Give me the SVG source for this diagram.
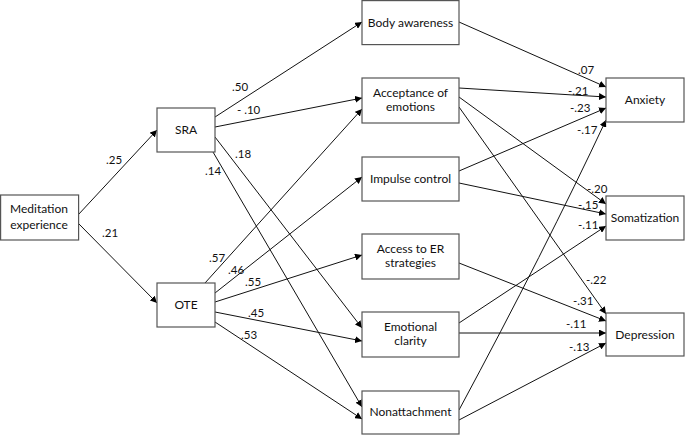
<svg xmlns="http://www.w3.org/2000/svg" width="685" height="436" viewBox="0 0 685 436">
<defs>
<marker id="ah" viewBox="0 0 10 10" refX="10" refY="5" markerWidth="7" markerHeight="7" orient="auto" markerUnits="userSpaceOnUse">
<path d="M0,0 L10,5 L0,10 z" fill="#000"/>
</marker>
<style>
.box{fill:#fff;stroke:#555;stroke-width:1.2}
.t{font-family:Lato,"Open Sans",sans-serif;font-size:12px;fill:#111;text-anchor:middle}
.l{font-family:Lato,"Open Sans",sans-serif;font-size:11.5px;fill:#111}
.c{fill:none;stroke:#111;stroke-width:1;marker-end:url(#ah)}
.n{fill:none;stroke:#111;stroke-width:1}
</style>
</defs>
<rect width="685" height="436" fill="#fff"/>
<g id="connectors">
<line class="c" x1="78" y1="215" x2="157" y2="130"/>
<line class="c" x1="78" y1="223" x2="157" y2="303"/>
<line class="c" x1="215" y1="117" x2="362" y2="22"/>
<line class="c" x1="215" y1="127" x2="362" y2="98"/>
<line class="c" x1="215" y1="137" x2="362" y2="328"/>
<line class="c" x1="213" y1="152" x2="362" y2="407"/>
<line class="c" x1="205" y1="283" x2="362" y2="109"/>
<line class="c" x1="215" y1="293" x2="362" y2="177"/>
<line class="c" x1="215" y1="302" x2="362" y2="255"/>
<line class="c" x1="215" y1="312" x2="362" y2="341"/>
<line class="c" x1="215" y1="322" x2="362" y2="419"/>
<line class="c" x1="459" y1="22" x2="606" y2="87"/>
<line class="c" x1="459" y1="88" x2="606" y2="97"/>
<line class="c" x1="459" y1="97" x2="606" y2="204"/>
<line class="c" x1="459" y1="107" x2="606" y2="314"/>
<line class="c" x1="459" y1="171" x2="606" y2="108"/>
<line class="c" x1="459" y1="183" x2="606" y2="214"/>
<line class="c" x1="459" y1="263" x2="606" y2="321"/>
<line class="c" x1="459" y1="323" x2="606" y2="226"/>
<line class="c" x1="459" y1="333" x2="606" y2="333"/>
<path class="c" d="M459,410 Q545,250 606,120"/>
<line class="c" x1="459" y1="420" x2="606" y2="343"/>
</g>
<g id="labels">
<text class="l" x="106" y="164">.25</text>
<text class="l" x="102" y="237">.21</text>
<text class="l" x="232" y="91">.50</text>
<text class="l" x="237" y="114">- .10</text>
<text class="l" x="235" y="158">.18</text>
<text class="l" x="205" y="175">.14</text>
<text class="l" x="209" y="262">.57</text>
<text class="l" x="228" y="274">.46</text>
<text class="l" x="245" y="286">.55</text>
<text class="l" x="248" y="317">.45</text>
<text class="l" x="241" y="339">.53</text>
<text class="l" x="578" y="74">.07</text>
<text class="l" x="568" y="95">-.21</text>
<text class="l" x="570" y="112">-.23</text>
<text class="l" x="577" y="134">-.17</text>
<text class="l" x="587" y="193">-.20</text>
<text class="l" x="578" y="209">-.15</text>
<text class="l" x="578" y="229">-.11</text>
<text class="l" x="586" y="284">-.22</text>
<text class="l" x="573" y="305">-.31</text>
<text class="l" x="566" y="328">-.11</text>
<text class="l" x="569" y="351">-.13</text>
</g>
<g id="meditation"><rect class="box" x="0.6" y="195" width="78" height="45"/><text class="t" x="39" y="213">Meditation</text><text class="t" x="39" y="229">experience</text></g>
<g id="sra"><rect class="box" x="157" y="108" width="58" height="44"/><text class="t" x="186" y="134">SRA</text></g>
<g id="ote"><rect class="box" x="157" y="283" width="58" height="44"/><text class="t" x="186" y="309">OTE</text></g>
<g id="body"><rect class="box" x="362" y="0.6" width="97" height="44"/><text class="t" x="410.5" y="27">Body awareness</text></g>
<g id="acceptance"><rect class="box" x="362" y="78" width="97" height="45"/><text class="t" x="410.5" y="97">Acceptance of</text><text class="t" x="410.5" y="111">emotions</text></g>
<g id="impulse"><rect class="box" x="362" y="157" width="97" height="44"/><text class="t" x="410.5" y="183">Impulse control</text></g>
<g id="access"><rect class="box" x="362" y="234" width="97" height="45"/><text class="t" x="410.5" y="253">Access to ER</text><text class="t" x="410.5" y="267">strategies</text></g>
<g id="clarity"><rect class="box" x="362" y="312" width="97" height="45"/><text class="t" x="410.5" y="331">Emotional</text><text class="t" x="410.5" y="345">clarity</text></g>
<g id="nonattachment"><rect class="box" x="362" y="391" width="97" height="43"/><text class="t" x="410.5" y="416">Nonattachment</text></g>
<g id="anxiety"><rect class="box" x="606" y="78" width="78" height="44"/><text class="t" x="645" y="104">Anxiety</text></g>
<g id="somatization"><rect class="box" x="606" y="196" width="78" height="44"/><text class="t" x="645" y="222">Somatization</text></g>
<g id="depression"><rect class="box" x="606" y="313" width="78" height="43"/><text class="t" x="645" y="339">Depression</text></g>
</svg>
